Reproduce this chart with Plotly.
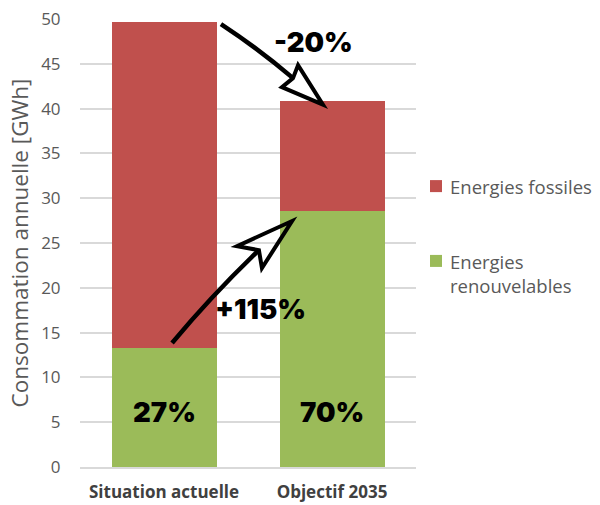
import plotly.graph_objects as go

# Annual consumption (GWh) for each scenario, split by energy source
categories = ["Situation actuelle", "Objectif 2035"]
series_names = ["Energies fossiles", "Energies<br>renouvelables"]
renouvelables = [13.3, 28.6]
fossiles = [36.4, 12.2]

share_labels = ["27%", "70%"]
total_change_label = "-20%"
renew_change_label = "+115%"

RED = "#c0504d"
GREEN = "#9bbb59"
TXT = "#595959"

x_pos = list(range(len(categories)))
totals = [r + f for r, f in zip(renouvelables, fossiles)]

fig = go.Figure()
fig.add_bar(x=x_pos, y=renouvelables, name=series_names[1],
            marker=dict(color=GREEN, line=dict(width=0)))
fig.add_bar(x=x_pos, y=fossiles, name=series_names[0],
            marker=dict(color=RED, line=dict(width=0)))

BIG = dict(family="Inter", size=27.5, color="black", weight=900)

# share of renewables printed inside the green bars
for xi, lab in zip(x_pos, share_labels):
    fig.add_annotation(x=xi, y=6.1, text=lab, showarrow=False, font=BIG,
                       xref="x", yref="y")


def hand_arrow(start, ctrl, notch, tip, wing_a, wing_b):
    # slightly curved shaft ending in an open, notched arrowhead
    shaft = f"M {start[0]},{start[1]} Q {ctrl[0]},{ctrl[1]} {notch[0]},{notch[1]}"
    fig.add_shape(type="path", path=shaft, xref="x", yref="y",
                  line=dict(color="black", width=4.5), layer="above")
    pts = [notch, wing_a, tip, wing_b]
    head = "M " + " L ".join(f"{px},{py}" for px, py in pts) + " Z"
    fig.add_shape(type="path", path=head, xref="x", yref="y",
                  line=dict(color="black", width=4), fillcolor="rgba(0,0,0,0)",
                  layer="above")


# arrow from the top of the first bar down to the top of the second one
t0, t1 = totals
hand_arrow(
    start=(0.339, t0 - 0.26),
    ctrl=(0.565, t0 - 3.05),
    notch=(0.768, t1 + 2.6),
    tip=(0.946, t1 - 0.35),
    wing_a=(0.702, t1 + 1.6),
    wing_b=(0.798, t1 + 4.05),
)
fig.add_annotation(x=0.887, y=t0 - 2.3, text=total_change_label, showarrow=False,
                   font=BIG, xref="x", yref="y")

# arrow from the top of the first green bar up to the top of the second one
g0, g1 = renouvelables
hand_arrow(
    start=(0.048, g0 + 0.54),
    ctrl=(0.292, g0 + 6.0),
    notch=(0.565, g1 - 4.4),
    tip=(0.762, g1 - 1.15),
    wing_a=(0.435, g1 - 3.95),
    wing_b=(0.583, g1 - 6.4),
)
fig.add_annotation(x=0.577, y=g0 + 4.3, text=renew_change_label, showarrow=False,
                   font=BIG, xref="x", yref="y")

# legend: coloured squares with labels to the right of the plot
LEG_FONT = dict(family="Open Sans", size=18.5, color=TXT)
legend_rows = [(series_names[0], RED, 0.627), (series_names[1], GREEN, 0.46)]
for name, color, yc in legend_rows:
    fig.add_shape(type="rect", xref="paper", yref="paper",
                  x0=1.0417, x1=1.0774, y0=yc - 0.0134, y1=yc + 0.0134,
                  fillcolor=color, line=dict(width=0))
    n_lines = name.count("<br>") + 1
    fig.add_annotation(xref="paper", yref="paper", x=1.0952,
                       y=yc + 0.031 if n_lines > 1 else yc,
                       xanchor="left", yanchor="top" if n_lines > 1 else "middle",
                       text=name, showarrow=False, align="left", font=LEG_FONT)

fig.update_layout(
    width=600, height=505,
    margin=dict(l=80, r=184, t=19, b=38),
    paper_bgcolor="white", plot_bgcolor="white",
    barmode="stack", bargap=0.375,
    font=dict(family="Open Sans", color=TXT),
    showlegend=False,
    xaxis=dict(
        range=[-0.5, 1.5], tickmode="array", tickvals=x_pos, ticktext=categories,
        tickfont=dict(family="Open Sans", size=17, color="#404040", weight="bold"),
        showgrid=False, zeroline=False, automargin=False,
        showline=True, linecolor="#d9d9d9", linewidth=1.5,
        ticks="outside", ticklen=9, tickcolor="rgba(0,0,0,0)",
        fixedrange=True,
    ),
    yaxis=dict(
        range=[0, 50], dtick=5, tick0=0, automargin=False,
        tickfont=dict(family="Open Sans", size=17, color=TXT),
        showgrid=True, gridcolor="#d9d9d9", gridwidth=1.5,
        zeroline=False, showline=False,
        ticks="outside", ticklen=15, tickcolor="rgba(0,0,0,0)",
        title=dict(text="Consommation annuelle [GWh]", standoff=6,
                   font=dict(family="Open Sans", size=22.5, color=TXT)),
        fixedrange=True,
    ),
)

fig.write_html("out.html")
